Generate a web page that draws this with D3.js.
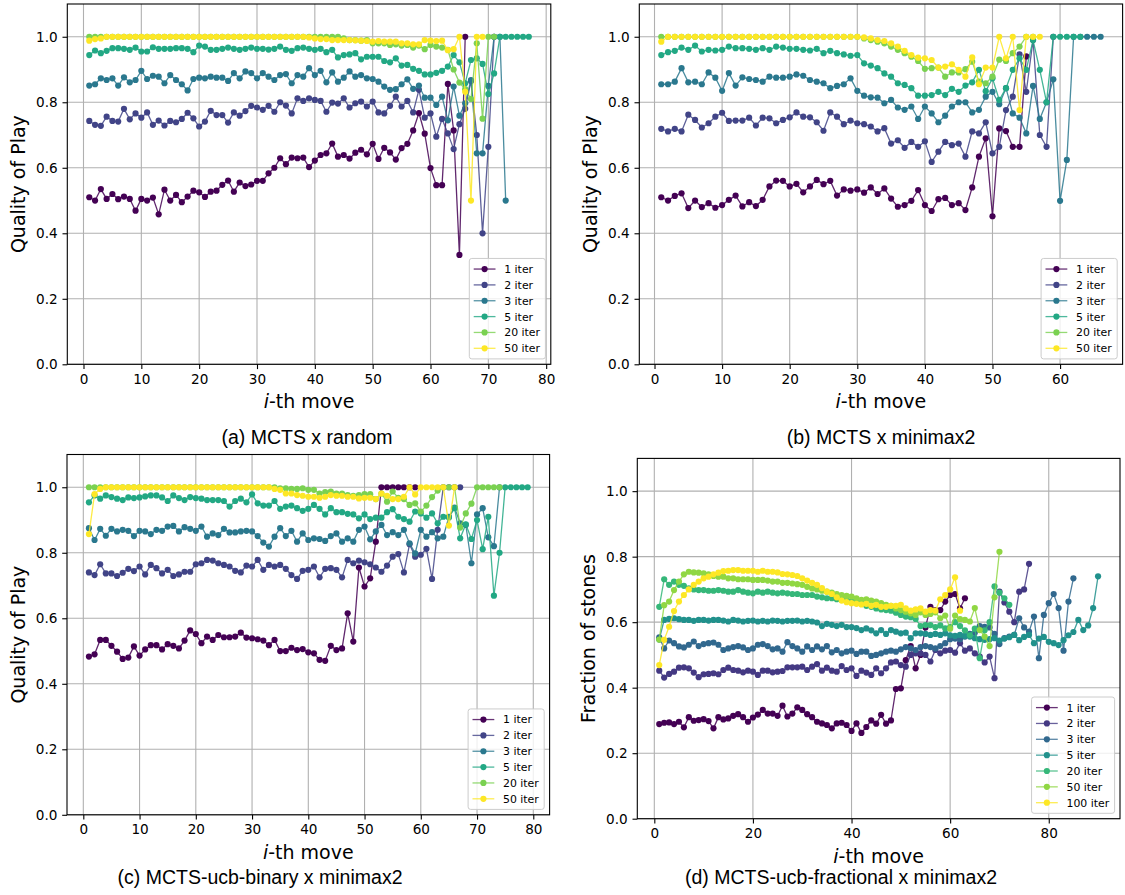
<!DOCTYPE html>
<html>
<head>
<meta charset="utf-8">
<script src="https://cdn.jsdelivr.net/npm/d3@7"></script>
<style>
  body { margin: 0; background: #fff; }
  svg { display: block; }
  text { font-family: "DejaVu Sans", sans-serif; }
</style>
</head>
<body>
<svg id="fig" width="1125" height="895"></svg>
<script>
// ---- series labels and tick values ----
const names6 = ["1 iter", "2 iter", "3 iter", "5 iter", "20 iter", "50 iter"];
const names7 = ["1 iter", "2 iter", "3 iter", "5 iter", "20 iter", "50 iter", "100 iter"];
const yTicks = [0, 0.2, 0.4, 0.6, 0.8, 1.0];
const xTicksWide = [0, 10, 20, 30, 40, 50, 60, 70, 80];
const xTicksB = [0, 10, 20, 30, 40, 50, 60];
const xTicksD = [0, 20, 40, 60, 80];

// ---- (a) MCTS x random : quality per move (move 1 first) ----
const a1 = [.510,.500,.535,.505,.520,.504,.512,.505,.469,.505,
  .500,.509,.458,.533,.500,.517,.495,.512,.530,.525,
  .511,.527,.530,.548,.561,.527,.555,.544,.549,.560,
  .560,.583,.600,.629,.611,.631,.629,.631,.602,.622,
  .639,.644,.674,.634,.639,.628,.646,.655,.641,.673,
  .627,.661,.647,.625,.660,.673,.714,.767,.704,.599,
  .547,.547,.856,.714,.334,1.0];
const a2 = [.743,.731,.728,.756,.743,.741,.780,.748,.766,.753,
  .769,.731,.744,.729,.743,.739,.749,.768,.751,.726,
  .741,.774,.761,.761,.738,.769,.759,.773,.789,.784,
  .777,.789,.771,.800,.790,.766,.812,.804,.812,.807,
  .804,.771,.799,.796,.812,.784,.797,.802,.787,.802,
  .769,.766,.789,.817,.787,.804,.769,.838,.753,.766,
  .695,.749,.705,.657,.733,.780,.865,.700,.400,.664,
  1.0];
const a3 = [.851,.855,.873,.868,.873,.851,.876,.861,.868,.896,
  .871,.881,.878,.858,.883,.868,.855,.836,.871,.875,
  .873,.878,.875,.875,.865,.889,.873,.894,.889,.873,
  .889,.878,.868,.883,.886,.858,.883,.878,.904,.883,
  .896,.861,.891,.863,.875,.894,.878,.883,.873,.871,
  .863,.848,.838,.840,.855,.870,.841,.851,.814,.814,
  .792,.817,.745,.848,.759,.797,.868,.644,.644,.850,
  1.0,1.0,.500];
const a5 = [.944,.958,.950,.957,.965,.965,.963,.960,.967,.955,
  .955,.968,.963,.963,.963,.965,.965,.963,.953,.973,
  .970,.960,.960,.963,.967,.963,.960,.963,.967,.963,
  .963,.961,.963,.970,.960,.957,.965,.967,.963,.960,
  .963,.953,.960,.937,.944,.946,.950,.931,.939,.939,
  .939,.926,.922,.934,.912,.914,.902,.896,.885,.885,
  .890,.896,.909,.944,.922,.858,.929,.934,.917,.825,
  .888,1.0,1.0,1.0,1.0,1.0,1.0];
const a20 = [1,1,1,1,1,1,1,1,1,1,
  1,1,1,1,1,1,1,1,1,1,
  1,1,1,1,1,1,1,1,1,1,
  1,1,1,1,1,1,1,1,1,1,
  1,1,1,1,.995,.990,.990,.988,.990,.980,
  .980,.980,.975,.977,.973,.975,.967,.973,.962,.975,
  .970,.967,.960,.900,.860,.840,.810,.980,.750,1.0,
  1.0];
const a50 = [.988,.993,.995,1,1,1,1,1,1,1,
  1,1,1,1,1,1,1,1,1,1,
  1,1,1,1,1,1,1,1,1,1,
  1,1,1,1,1,1,1,1,.998,.995,
  .993,.993,.990,.990,.990,.990,.989,.988,.987,.985,
  .987,.985,.985,.985,.980,.980,.977,.977,.990,.988,
  .987,.988,.959,.962,1.0,.832,.500,1.0,1.0];

// ---- (b) MCTS x minimax2 ----
const b1 = [.510,.500,.514,.522,.477,.500,.480,.492,.478,.486,
  .502,.515,.482,.495,.483,.502,.543,.561,.560,.543,
  .551,.525,.543,.563,.550,.560,.515,.534,.530,.534,
  .524,.540,.520,.537,.506,.481,.486,.499,.532,.486,
  .468,.504,.508,.486,.492,.471,.540,.634,.690,.452,
  .720,.712,.664,.664,.940];
const b2 = [.719,.711,.719,.711,.762,.746,.723,.736,.756,.768,
  .743,.744,.744,.753,.729,.753,.751,.736,.746,.754,
  .769,.756,.754,.739,.713,.769,.756,.733,.744,.736,
  .733,.726,.711,.721,.674,.684,.661,.679,.664,.681,
  .618,.649,.679,.669,.674,.634,.711,.705,.739,.644,
  .664,.776,.817,.946,.832,.990,.700,.664,1.0];
const b3 = [.855,.855,.863,.904,.861,.863,.855,.891,.875,.835,
  .889,.851,.876,.871,.868,.863,.878,.875,.875,.878,
  .885,.881,.868,.863,.858,.843,.850,.855,.873,.835,
  .820,.815,.814,.797,.807,.784,.777,.787,.749,.787,
  .766,.739,.759,.787,.800,.800,.769,.777,.817,.832,
  .794,.843,.766,.753,.705,.850,.749,.800,.870,.499,
  .624,1.0,1.0,1.0,1.0,1.0];
const b5 = [.944,.953,.957,.967,.960,.973,.955,.960,.958,.960,
  .970,.965,.965,.963,.960,.965,.960,.970,.967,.963,
  .963,.960,.958,.963,.950,.957,.950,.946,.942,.944,
  .919,.912,.904,.888,.878,.858,.853,.843,.820,.820,
  .822,.832,.822,.841,.832,.851,.861,.899,.834,.873,
  .807,.843,.899,.934,.899,.990,.899,.800,1.0,1.0,
  1.0,1.0,1.0];
const b20 = [1,1,1,1,1,1,1,1,1,1,
  1,1,1,1,1,1,1,1,1,1,
  1,1,1,1,1,1,1,1,1,1,
  .995,.990,.985,.980,.970,.960,.950,.939,.926,.902,
  .904,.906,.878,.891,.891,.901,.924,.863,.858,.878,
  .930,.926,.950,.970,1.0,1.0];
const b50 = [.985,1,1,1,1,1,1,1,1,1,
  1,1,1,1,1,1,1,1,1,1,
  1,1,1,1,1,1,1,1,1,1,
  .998,.995,.990,.987,.980,.970,.957,.944,.936,.934,
  .929,.906,.909,.916,.899,.878,.937,.855,.906,.906,
  1.0,.934,1.0,.776,1.0,1.0,1.0];

// ---- (c) MCTS-ucb-binary x minimax2 ----
const c1 = [.483,.490,.534,.534,.516,.498,.476,.480,.514,.486,
  .505,.518,.518,.505,.521,.516,.508,.532,.563,.552,
  .524,.544,.534,.549,.542,.542,.544,.556,.541,.539,
  .536,.532,.518,.534,.500,.500,.510,.503,.506,.496,
  .493,.473,.470,.516,.503,.508,.615,.529,.755,.697,
  .722,.834,1.0,1.0,1.0,1.0,1.0,1.0,1.0];
const c2 = [.740,.732,.765,.737,.737,.729,.739,.751,.744,.758,
  .734,.763,.753,.737,.748,.729,.734,.742,.742,.765,
  .768,.778,.776,.768,.763,.758,.745,.740,.761,.758,
  .778,.748,.763,.758,.763,.751,.732,.720,.745,.748,
  .758,.725,.751,.753,.748,.725,.778,.768,.776,.771,
  .765,.755,.742,.761,.788,.796,.740,.826,.788,.794,
  .812,.720,.870,1.0,1.0,1.0,1.0];
const c3 = [.875,.839,.873,.852,.873,.865,.870,.867,.851,.867,
  .865,.857,.870,.867,.880,.882,.865,.878,.873,.867,
  .880,.849,.859,.854,.873,.862,.862,.865,.867,.865,
  .851,.831,.819,.849,.875,.851,.867,.834,.859,.839,
  .844,.842,.836,.851,.859,.834,.844,.834,.870,.880,
  .841,.865,.885,.854,.863,.854,.870,.829,.798,.870,
  .849,.863,.844,.849,.910,.938,.890,.885,.768,.917,
  .936,.847,.820,1.0];
const c5 = [.954,.975,.965,.975,.970,.965,.961,.969,.967,.969,
  .972,.975,.975,.969,.958,.975,.967,.961,.970,.967,
  .965,.961,.961,.961,.958,.941,.958,.965,.954,.978,
  .951,.944,.944,.958,.934,.941,.944,.936,.928,.934,
  .946,.934,.917,.936,.924,.924,.919,.917,.905,.917,
  .903,.907,.907,.924,.933,.910,.903,.895,.926,.920,
  .907,.920,.890,.910,.908,.936,.844,.887,.842,.900,
  .811,.910,.669,.800,1.0,1.0,1.0,1.0,1.0];
const c20 = [1,1,1,1,1,1,1,1,1,1,
  1,1,1,1,1,1,1,1,1,1,
  1,1,1,1,1,1,1,1,1,1,
  1,1,1,1,.997,.997,.995,.995,.997,.992,
  .992,.981,.985,.987,.981,.981,.976,.974,.976,.979,
  .979,.964,.981,.956,.987,.968,.964,.946,.951,.926,
  .944,.970,.990,1.0,1.0,1.0,.877,.920,.950,1.0,
  1.0,1.0,1.0,1.0];
const c50 = [.857,.979,.995,1,1,1,1,1,1,1,
  1,1,1,1,1,1,1,1,1,1,
  1,1,1,1,1,1,1,1,1,1,
  1,1,1,.995,.992,.981,.981,.976,.974,.971,
  .971,.968,.971,.976,.974,.974,.971,.971,.966,.968,
  .968,.964,.981,.974,.964,.964,.971,1.0,.978,1.0,
  1.0,1.0,1.0,1.0,.883,1.0];

// ---- (d) MCTS-ucb-fractional x minimax2 : fraction of stones ----
const d1 = [.289,.293,.294,.289,.296,.279,.310,.299,.301,.304,
  .298,.276,.310,.303,.306,.314,.319,.310,.296,.309,
  .318,.332,.321,.321,.314,.345,.312,.321,.340,.332,
  .319,.310,.296,.291,.286,.276,.291,.293,.286,.268,
  .291,.262,.280,.300,.290,.317,.290,.300,.396,.398,
  .484,.527,.459,.500,.584,.647,.637,.637,.663,.683,
  .686,.642,.673];
const d2 = [.452,.431,.442,.449,.461,.462,.459,.446,.432,.441,
  .442,.444,.441,.454,.461,.454,.452,.447,.452,.449,
  .439,.452,.452,.447,.449,.451,.462,.462,.462,.464,
  .454,.464,.472,.452,.461,.452,.449,.466,.454,.459,
  .436,.452,.446,.439,.459,.444,.459,.477,.480,.469,
  .464,.500,.505,.505,.500,.480,.515,.505,.513,.515,
  .507,.536,.513,.520,.505,.495,.477,.495,.429,.693,
  .660,.632,.600,.693,.700,.778];
const d3v = [.554,.520,.544,.536,.526,.523,.531,.541,.527,.533,
  .536,.538,.531,.515,.520,.524,.527,.523,.515,.520,
  .531,.533,.527,.517,.520,.510,.539,.527,.520,.510,
  .526,.515,.526,.517,.527,.508,.515,.505,.510,.513,
  .503,.510,.510,.497,.500,.505,.510,.513,.510,.517,
  .524,.520,.515,.524,.527,.524,.520,.527,.536,.548,
  .550,.548,.556,.564,.568,.588,.586,.584,.564,.533,
  .551,.556,.561,.612,.584,.571,.617,.490,.622,.658,
  .686,.643,.513,.663,.734];
const d5 = [.547,.607,.610,.612,.609,.607,.607,.604,.607,.607,
  .605,.607,.607,.605,.602,.607,.605,.602,.604,.605,
  .602,.604,.602,.605,.604,.602,.604,.604,.605,.602,
  .604,.602,.599,.588,.595,.592,.588,.592,.585,.585,
  .582,.576,.581,.575,.566,.576,.564,.576,.571,.566,
  .568,.551,.566,.566,.564,.561,.564,.561,.566,.560,
  .558,.561,.558,.556,.551,.548,.546,.548,.551,.544,
  .550,.554,.561,.545,.555,.561,.536,.550,.555,.540,
  .536,.530,.545,.560,.570,.607,.576,.590,.643,.740];
const d20 = [.647,.731,.714,.724,.714,.711,.703,.700,.698,.698,
  .696,.696,.698,.696,.693,.693,.698,.693,.690,.688,
  .693,.690,.693,.690,.688,.690,.688,.686,.686,.683,
  .683,.683,.678,.676,.673,.673,.670,.668,.666,.663,
  .660,.656,.650,.647,.642,.639,.637,.635,.629,.622,
  .617,.615,.610,.588,.591,.591,.585,.590,.581,.585,
  .600,.588,.575,.560,.580,.490,.575,.600,.709,.690,
  .673,.653];
const d50 = [.547,.652,.663,.698,.724,.746,.754,.752,.751,.749,
  .746,.741,.739,.739,.734,.734,.731,.731,.731,.729,
  .729,.729,.727,.724,.724,.720,.720,.718,.716,.714,
  .708,.703,.700,.696,.693,.690,.686,.683,.680,.678,
  .673,.668,.670,.666,.663,.658,.653,.650,.642,.637,
  .632,.627,.622,.630,.622,.625,.630,.612,.620,.580,
  .620,.609,.607,.602,.643,.576,.556,.527,.676,.815];
const d100 = [.469,.546,.586,.634,.663,.683,.700,.714,.724,.734,
  .739,.746,.751,.756,.757,.759,.759,.757,.757,.757,
  .754,.757,.754,.754,.752,.747,.746,.744,.741,.734,
  .727,.720,.714,.704,.693,.686,.676,.666,.661,.658,
  .656,.654,.656,.650,.653,.647,.647,.650,.650,.653,
  .642,.635,.639,.642,.632,.637,.635,.670,.683,.700,
  .737,.635];

// ---- panel layout ----
const panels = [
  { box: [67.3, 4, 550.8, 364.3], xDomain: [-2.8, 80.8], xTicks: xTicksWide,
    series: [a1, a2, a3, a5, a20, a50], names: names6,
    yLabel: "Quality of Play", caption: "(a) MCTS x random", capX: 307, capY: 444 },
  { box: [639.3, 4, 1122.6, 364.3], xDomain: [-2.25, 69.25], xTicks: xTicksB,
    series: [b1, b2, b3, b5, b20, b50], names: names6,
    yLabel: "Quality of Play", caption: "(b) MCTS x minimax2", capX: 881, capY: 444 },
  { box: [67, 454.5, 549.6, 814.8], xDomain: [-2.9, 82.9], xTicks: xTicksWide,
    series: [c1, c2, c3, c5, c20, c50], names: names6,
    yLabel: "Quality of Play", caption: "(c) MCTS-ucb-binary x minimax2", capX: 260, capY: 884 },
  { box: [637.3, 458.4, 1120, 818.7], xDomain: [-3.45, 94.45], xTicks: xTicksD,
    series: [d1, d2, d3v, d5, d20, d50, d100], names: names7,
    yLabel: "Fraction of stones", caption: "(d) MCTS-ucb-fractional x minimax2", capX: 841, capY: 884 }
];

const svg = d3.select("#fig");
const GRID = "#b0b0b0";
const TICK_FONT = 13.6, LABEL_FONT = 19, LEGEND_FONT = 10.9, CAPTION_FONT = 19.5;

function drawPanel(p) {
  const [L, T, R, B] = p.box;
  const x = d3.scaleLinear().domain(p.xDomain).range([L, R]);
  const y = d3.scaleLinear().domain([0, 1.1]).range([B, T]);
  const n = p.series.length;
  const color = i => d3.interpolateViridis(i / (n - 1));
  const g = svg.append("g");

  // grid
  g.append("g").selectAll("line").data(p.xTicks).join("line")
    .attr("x1", d => x(d)).attr("x2", d => x(d)).attr("y1", T).attr("y2", B)
    .attr("stroke", GRID).attr("stroke-width", 1.1);
  g.append("g").selectAll("line").data(yTicks).join("line")
    .attr("y1", d => y(d)).attr("y2", d => y(d)).attr("x1", L).attr("x2", R)
    .attr("stroke", GRID).attr("stroke-width", 1.1);

  // series: line then markers, later series on top
  const line = d3.line().x(d => x(d[0])).y(d => y(d[1]));
  p.series.forEach((vals, i) => {
    const pts = vals.map((v, k) => [k + 1, v]);
    const sg = g.append("g");
    sg.append("path").attr("d", line(pts)).attr("fill", "none")
      .attr("stroke", color(i)).attr("stroke-width", 1.3).attr("stroke-opacity", 0.85);
    sg.selectAll("circle").data(pts).join("circle")
      .attr("cx", d => x(d[0])).attr("cy", d => y(d[1])).attr("r", 3.1)
      .attr("fill", color(i));
  });

  // axes
  const ax = g.append("g").attr("transform", `translate(0,${B})`)
    .call(d3.axisBottom(x).tickValues(p.xTicks).tickFormat(d3.format("d"))
      .tickSize(4.8).tickPadding(4.8).tickSizeOuter(0));
  const ay = g.append("g").attr("transform", `translate(${L},0)`)
    .call(d3.axisLeft(y).tickValues(yTicks).tickFormat(d3.format(".1f"))
      .tickSize(4.8).tickPadding(4.8).tickSizeOuter(0));
  [ax, ay].forEach(a => {
    a.select(".domain").remove();
    a.selectAll("line").attr("stroke", "#000").attr("stroke-width", 1.1);
    a.selectAll("text").attr("fill", "#000").style("font-size", TICK_FONT + "px")
      .style("font-family", "'DejaVu Sans', sans-serif");
  });
  g.append("rect").attr("x", L).attr("y", T).attr("width", R - L).attr("height", B - T)
    .attr("fill", "none").attr("stroke", "#000").attr("stroke-width", 1.1);

  // axis labels
  const xl = g.append("text").attr("x", (L + R) / 2).attr("y", B + 44)
    .attr("text-anchor", "middle").style("font-size", LABEL_FONT + "px");
  xl.append("tspan").style("font-style", "italic").text("i");
  xl.append("tspan").text("-th move");
  g.append("text").attr("transform", `translate(${L - 42},${(T + B) / 2}) rotate(-90)`)
    .attr("text-anchor", "middle").style("font-size", LABEL_FONT + "px").text(p.yLabel);

  // caption
  g.append("text").attr("x", p.capX).attr("y", p.capY).attr("text-anchor", "middle")
    .style("font-family", "'Liberation Sans', Arial, sans-serif").style("font-size", CAPTION_FONT + "px")
    .text(p.caption);

  // legend (lower right)
  const rowH = 15.85, padV = 10.6, handleLen = 21.8, textPad = 8.7, padH = 4.4;
  const lg = g.append("g");
  const frame = lg.append("rect");
  const items = p.names.map((nm, i) => {
    const it = lg.append("g");
    it.append("line").attr("stroke", color(i)).attr("stroke-width", 1.3).attr("stroke-opacity", 0.8);
    it.append("circle").attr("r", 3.1).attr("fill", color(i));
    const t = it.append("text").style("font-size", LEGEND_FONT + "px").text(nm);
    return { it, t };
  });
  const maxW = d3.max(items, d => d.t.node().getComputedTextLength());
  const boxW = padH + handleLen + textPad + maxW + padH + 1;
  const boxH = (n - 1) * rowH + 2 * padV;
  const bx = R - 5.4 - boxW, by = B - 5.4 - boxH;
  frame.attr("x", bx).attr("y", by).attr("width", boxW).attr("height", boxH)
    .attr("rx", 2.5).attr("fill", "#fff").attr("fill-opacity", 0.8)
    .attr("stroke", "#cccccc").attr("stroke-width", 1);
  items.forEach((d, i) => {
    const cy = by + padV + i * rowH;
    const hx = bx + padH;
    d.it.select("line").attr("x1", hx).attr("x2", hx + handleLen).attr("y1", cy).attr("y2", cy);
    d.it.select("circle").attr("cx", hx + handleLen / 2).attr("cy", cy);
    d.t.attr("x", hx + handleLen + textPad).attr("y", cy).attr("dy", "0.36em");
  });
}

panels.forEach(drawPanel);
</script>
</body>
</html>
